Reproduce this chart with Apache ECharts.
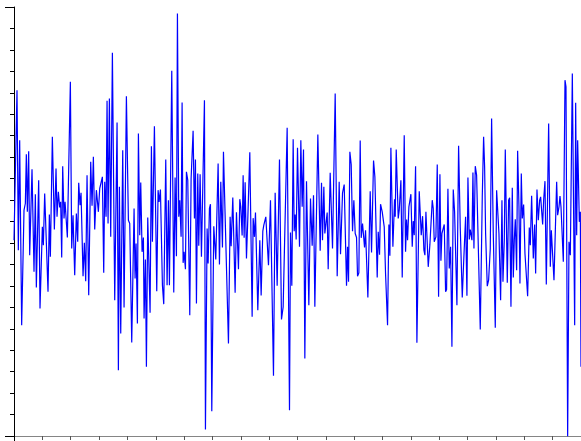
<!DOCTYPE html>
<html>
<head>
<meta charset="utf-8">
<script src="https://cdn.jsdelivr.net/npm/echarts@6/dist/echarts.min.js"></script>
<style>html,body{margin:0;padding:0;background:#fff}#c{width:581px;height:441px}</style>
</head>
<body>
<div id="c"></div>
<script>
const t = [0,9,13,17,23,30,34,37,40,44,47,54,60,64,67,74,78,85,88,92,102,106,109,115,121,126,129,133,137,140,143,146,150,153,160,163,169,173,177,182,187,191,194,198,201,207,211,215,219,224,230,234,238,242,247,253,257,262,265,269,272,276,279,282,286,290,295,302,309,313,316,320,326,330,337,343,347,353,360,363,366,370,373,377,380,384,388,390,394,397,401,408,412,415,421,428,432,435,439,445,449,455,459,463,466,473,479,483,487,490,494,497,501,504,507,510,514,517,521,527,531,537,541,544,547,551,554,558,562,566,571,574,579,582,586,589,593,599,602,605,612,616,620,625,628,632,637,643,648,651,656,663,667,670,673,677,680,684,687,690,693,697,701,707,714,717,721,724,731,737,741,746,749,755,763,769,778,783,789,796,802,807,819,826,829,833,837,840,843,846,850,856,860,864,868,872,877,884,889,894,898,902,911,918,922,925,929,932,939,942,948,952,955,963,969,975,979,985,990,997,1000,1003,1007,1011,1015,1019,1023,1027,1030,1034,1038,1041,1045,1048,1051,1054,1058,1061,1068,1072,1078,1082,1089,1092,1096,1099,1104,1110,1114,1120,1124,1127,1130,1136,1141,1143,1146,1152,1155,1160,1164,1170,1174,1177,1180,1184,1190,1194,1197,1200,1204,1208,1215,1221,1225,1229,1232,1235,1242,1247,1250,1254,1257,1260,1265,1269,1273,1277,1280,1283,1290,1294,1297,1301,1304,1305,1309,1313,1317,1321,1328,1333,1338,1344,1348,1354,1358,1361,1365,1368,1373,1376,1379,1383,1387,1391,1398,1404,1408,1411,1414,1419,1423,1428,1432,1437,1443,1447,1450,1454,1459,1463,1466,1470,1473,1479,1483,1486,1490,1494,1497,1500,1503,1507,1510,1514,1517,1521,1524,1528,1532,1540,1545,1548,1552,1557,1561,1564,1568,1572,1576,1579,1585,1588,1592,1596,1603,1608,1611,1615,1619,1622,1627,1630,1634,1637,1640,1647,1652,1655,1660,1664,1668,1674,1681,1684,1687,1690,1695,1698,1700];
const signal = [-56,394,-86,244,-311,34,54,202,29,211,-101,157,-151,82,-198,124,-261,-16,-71,84,-211,21,-106,254,-24,159,14,89,42,59,-108,166,9,59,-48,-48,419,-81,19,-161,24,-61,116,49,86,-164,-64,-179,139,-221,179,47,194,-24,94,29,99,96,134,-154,119,14,362,-6,369,-46,506,-236,297,-446,104,-336,214,-258,376,4,-6,-363,39,-171,-66,-306,264,-41,117,-91,-48,-291,-114,-436,12,-274,226,-61,286,-209,94,59,96,-191,-248,186,-191,64,-191,452,-213,132,-104,624,14,64,-46,357,-124,-91,-143,149,124,-281,129,272,9,186,-246,144,-73,142,-106,-101,364,-624,-21,-126,39,52,-569,-14,-11,-114,174,-129,119,-78,209,204,-136,-366,14,-74,72,-214,28,24,-143,67,44,-42,139,-49,118,-111,9,208,-286,10,-46,27,-266,-56,-222,-29,-11,14,-131,64,-463,86,-193,186,-294,-256,281,-566,-33,-193,247,-29,21,-54,221,-76,244,44,216,-411,121,-251,69,-73,79,-256,261,-88,116,-56,104,-36,27,-143,146,151,-81,384,-164,119,-98,86,111,-193,-76,-181,209,171,-29,64,-36,-48,-164,-154,243,-49,-6,-6,-78,-26,-26,-228,91,-93,183,134,-168,-31,-100,52,29,-16,-156,-311,-9,-103,221,-76,67,14,216,9,34,124,-168,259,-91,6,-56,44,82,-76,1,-41,166,-364,91,-41,16,-86,-101,29,-136,-68,-71,64,39,-61,-46,171,-226,142,-118,-36,-9,-211,-204,98,92,-141,-76,-376,96,29,-251,227,-19,-228,-126,14,-223,132,-54,-24,-56,147,-81,166,139,142,-324,74,254,164,-36,-194,-176,-81,309,-36,-319,94,96,-36,-236,64,-181,-56,216,-184,64,71,-256,101,-168,-56,7,-146,212,44,-186,144,9,51,-96,-224,-18,-71,77,-111,-9,-156,96,4,64,74,-9,64,121,-189,294,-136,-26,-31,-176,-181,119,19,44,76,44,-121,424,404,-644,-61,-101,444,-311,356,-41,244,-1,29,-436];

const chart = echarts.init(document.getElementById('c'), null, {renderer: 'canvas'});
chart.setOption({
  animation: false,
  backgroundColor: '#fff',
  grid: {left: 14, right: 0, top: 7, bottom: 5, containLabel: false},
  xAxis: {
    type: 'value', min: 0, max: 1700, interval: 1700, z: 1,
    axisLine: {show: true, onZero: false, lineStyle: {color: '#858585', width: 1}},
    axisTick: {show: true, inside: false, length: 8, lineStyle: {color: '#000', width: 1}},
    minorTick: {show: true, splitNumber: 20, length: 4, lineStyle: {color: '#555', width: 1}},
    axisLabel: {show: false},
    splitLine: {show: false}, minorSplitLine: {show: false}
  },
  yAxis: {
    type: 'value', min: -643.5, max: 643.5, interval: 1287, z: 2,
    axisLine: {show: true, onZero: false, lineStyle: {color: '#000', width: 1}},
    axisTick: {show: true, inside: false, length: 9, lineStyle: {color: '#000', width: 1}},
    minorTick: {show: true, splitNumber: 20, length: 4, lineStyle: {color: '#000', width: 1}},
    axisLabel: {show: false},
    splitLine: {show: false}, minorSplitLine: {show: false}
  },
  series: [{
    type: 'line',
    data: t.map((x, i) => [x, signal[i]]),
    showSymbol: false,
    symbol: 'none',
    lineStyle: {color: '#0000ff', width: 1.2},
    clip: false
  }]
});
</script>
</body>
</html>
